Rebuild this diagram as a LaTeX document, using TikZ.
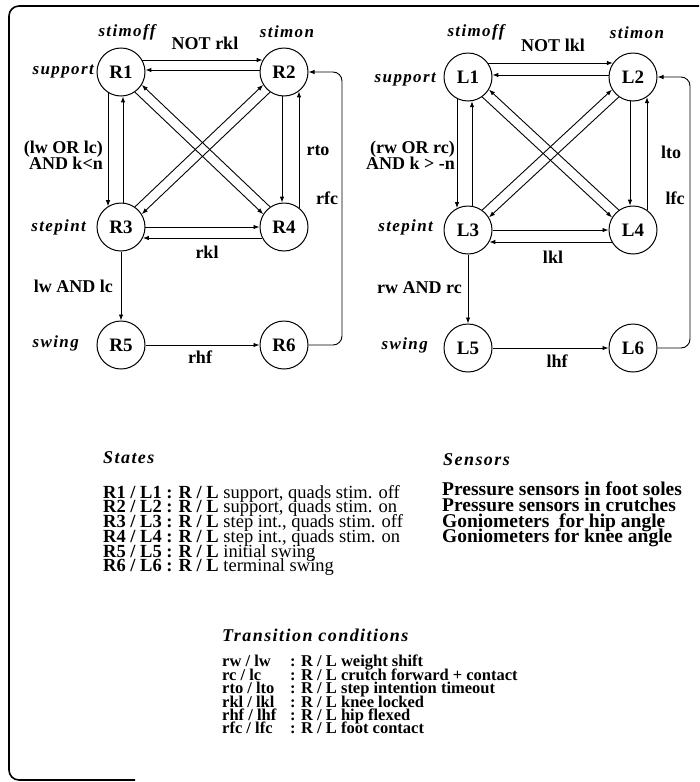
\documentclass[tikz,border=0pt]{standalone}
\usepackage{fontspec}
\setmainfont{Liberation Serif}
\newfontfamily\spacedfont[LetterSpace=8]{Liberation Serif}
\usetikzlibrary{arrows.meta,calc}
\setlength{\lineskiplimit}{-100pt}
\newcommand\offarrow[3]{\draw[arr, shorten <={sqrt(600-(#3)*(#3))*1pt}, shorten >={sqrt(600-(#3)*(#3))*1pt}] ($(#1)!#3pt!90:(#2)$) -- ($(#2)!#3pt!-90:(#1)$);}
\newcommand\tcol[1]{\makebox[68pt][l]{#1}}
\begin{document}
\begin{tikzpicture}[x=1pt,y=-1pt,
  state/.style={circle,draw,line width=1pt,minimum size=48pt,inner sep=0pt,font=\fontsize{19}{19}\selectfont\bfseries},
  arr/.style={-{Latex[length=6pt,width=4.5pt]},line width=0.9pt},
  lbl/.style={font=\fontsize{18}{16}\selectfont\bfseries,inner sep=0pt},
  ilbl/.style={font=\fontsize{17}{17}\selectfont\spacedfont\bfseries\itshape,inner sep=0pt},
  ttl/.style={font=\fontsize{18}{18}\selectfont\spacedfont\bfseries\itshape,inner sep=0pt,anchor=base west}
]
\useasboundingbox (0,0) rectangle (699,782);
% frame
\draw[line width=1.6pt, rounded corners=10pt] (699,6) -- (9,6) -- (9,780) -- (135,780);

% ---------- right leg ----------
\node[state] (R1) at (121,72) {R1};
\node[state] (R2) at (284,72) {R2};
\node[state] (R3) at (121,227) {R3};
\node[state] (R4) at (284,227) {R4};
\node[state] (R5) at (121,345) {R5};
\node[state] (R6) at (284,345) {R6};
\coordinate (loopR) at (342,0);

\offarrow{R1}{R2}{12}
\offarrow{R2}{R1}{-2}
\offarrow{R3}{R4}{0}
\offarrow{R4}{R3}{11}
\offarrow{R1}{R3}{-13}
\offarrow{R3}{R1}{-2}
\offarrow{R2}{R4}{-2}
\offarrow{R4}{R2}{-15}
\offarrow{R1}{R4}{-5}
\offarrow{R4}{R1}{-5}
\offarrow{R2}{R3}{5}
\offarrow{R3}{R2}{5}
\draw[arr] (R3) -- (R5);
\draw[arr] (R5) -- (R6);
\draw[arr, rounded corners=9pt] (R6.east) -- (R6.east -| loopR) |- (R2.east);

\node[ilbl] (tRoff) at (127,32) {stimoff};
\node[lbl] (tRnot) at (205,43) {NOT rkl};
\node[ilbl] (tRon) at (287,32) {stimon};
\node[ilbl, anchor=east] (tRsup) at (94,72) {support};
\node[lbl, align=right, anchor=east] (tRc1) at (103,155) {(lw OR lc)\\AND k<n};
\node[lbl] (tRrto) at (318,151) {rto};
\node[lbl] (tRrfc) at (327,198) {rfc};
\node[ilbl, anchor=east] (tRstep) at (86,227) {stepint};
\node[lbl] (tRrkl) at (207,252) {rkl};
\node[lbl, anchor=east] (tRc2) at (113,286) {lw AND lc};
\node[ilbl, anchor=east] (tRsw) at (79,343) {swing};
\node[lbl] (tRrhf) at (200,357) {rhf};

% ---------- left leg ----------
\node[state] (L1) at (468,77) {L1};
\node[state] (L2) at (633,77) {L2};
\node[state] (L3) at (468,230) {L3};
\node[state] (L4) at (633,230) {L4};
\node[state] (L5) at (468,348) {L5};
\node[state] (L6) at (633,348) {L6};
\coordinate (loopL) at (690,0);

\offarrow{L1}{L2}{14}
\offarrow{L2}{L1}{-2}
\offarrow{L3}{L4}{0}
\offarrow{L4}{L3}{12}
\offarrow{L1}{L3}{-11}
\offarrow{L3}{L1}{-4}
\offarrow{L2}{L4}{-3}
\offarrow{L4}{L2}{-14}
\offarrow{L1}{L4}{-5}
\offarrow{L4}{L1}{-5}
\offarrow{L2}{L3}{5}
\offarrow{L3}{L2}{5}
\draw[arr] (L3) -- (L5);
\draw[arr] (L5) -- (L6);
\draw[arr, rounded corners=9pt] (L6.east) -- (L6.east -| loopL) |- (L2.east);

\node[ilbl] (tLoff) at (476,32) {stimoff};
\node[lbl] (tLnot) at (553,45) {NOT lkl};
\node[ilbl] (tLon) at (637,33) {stimon};
\node[ilbl, anchor=east] (tLsup) at (436,80) {support};
\node[lbl, align=right, anchor=east] (tLc1) at (455,155) {(rw OR rc)\\AND k > -n};
\node[lbl] (tLlto) at (671,152) {lto};
\node[lbl] (tLlfc) at (675,198) {lfc};
\node[ilbl, anchor=east] (tLstep) at (433,227) {stepint};
\node[lbl] (tLlkl) at (553,257) {lkl};
\node[lbl, anchor=east] (tLc2) at (462,288) {rw AND rc};
\node[ilbl, anchor=east] (tLsw) at (428,345) {swing};
\node[lbl] (tLlhf) at (557,361) {lhf};

% ---------- legends ----------
\node[ttl] (hStates) at (103,463) {States};
\node[anchor=north west, inner sep=0pt, align=left, font=\fontsize{18.5}{14.7}\selectfont] (lStates) at (103,485)
 {\textbf{R1 / L1 : R / L} support, quads stim. off\\
  \textbf{R2 / L2 : R / L} support, quads stim. on\\
  \textbf{R3 / L3 : R / L} step int., quads stim. off\\
  \textbf{R4 / L4 : R / L} step int., quads stim. on\\
  \textbf{R5 / L5 : R / L} initial swing\\
  \textbf{R6 / L6 : R / L} terminal swing};

\node[ttl] (hSensors) at (443,465) {Sensors};
\node[anchor=north west, inner sep=0pt, align=left, font=\fontsize{19.5}{15.6}\selectfont\bfseries] (lSensors) at (442,482)
 {Pressure sensors in foot soles\\
  Pressure sensors in crutches\\
  Goniometers\ \ for hip angle\\
  Goniometers for knee angle};

\node[ttl] (hTrans) at (222,641) {Transition conditions};
\node[anchor=north west, inner sep=0pt, align=left, font=\fontsize{16.5}{13.4}\selectfont\bfseries] (lTrans) at (222,655)
 {\tcol{rw / lw}: R / L weight shift\\
  \tcol{rc / lc}: R / L crutch forward + contact\\
  \tcol{rto / lto}: R / L step intention timeout\\
  \tcol{rkl / lkl}: R / L knee locked\\
  \tcol{rhf / lhf}: R / L hip flexed\\
  \tcol{rfc / lfc}: R / L foot contact};
\end{tikzpicture}
\end{document}
